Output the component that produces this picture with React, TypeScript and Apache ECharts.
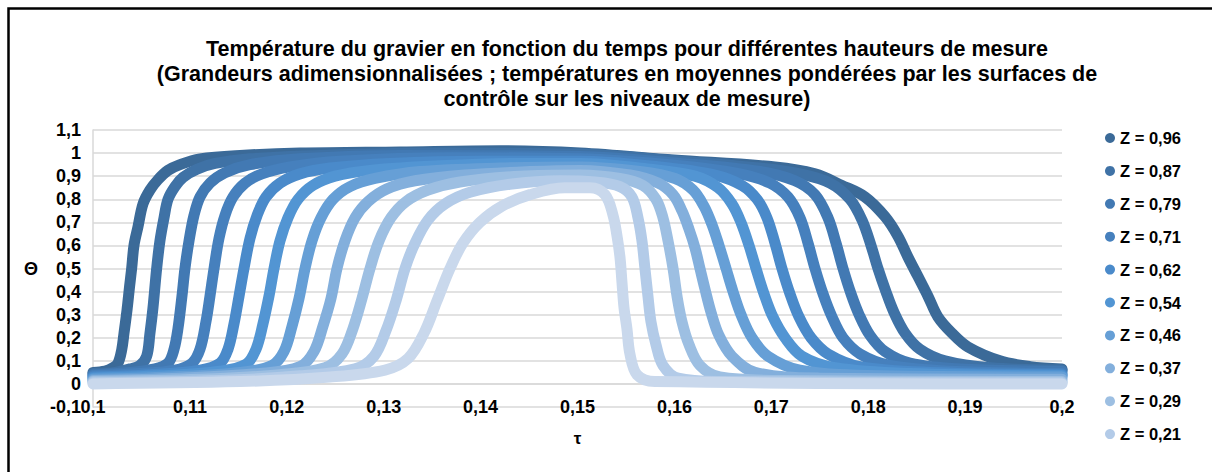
import React, { useEffect, useRef } from "react";
import * as echarts from "echarts";

const titleLines = [
  "Température du gravier en fonction du temps pour différentes hauteurs de mesure",
  "(Grandeurs adimensionnalisées ; températures en moyennes pondérées par les surfaces de",
  "contrôle sur les niveaux de mesure)",
];
const xName = "τ";
const yName = "Θ";
const seriesNames = [
  "Z = 0,96", "Z = 0,87", "Z = 0,79", "Z = 0,71", "Z = 0,62",
  "Z = 0,54", "Z = 0,46", "Z = 0,37", "Z = 0,29", "Z = 0,21", "Z = 0,12",
];
const legendNames = seriesNames.slice(0, 10);
const seriesColors = [
  "#3b6a98", "#3f72a6", "#4279b3", "#4680bd", "#4a8aca",
  "#5295d3", "#669fd6", "#83afdc", "#9dbfe2", "#b3cbe8", "#c9d8ec",
];

const z096 = [
  [0.1, 0.05], [0.10124, 0.055], [0.10206, 0.07], [0.10258, 0.09], [0.10296, 0.147], [0.1032, 0.22],
  [0.10351, 0.32], [0.10377, 0.42], [0.10399, 0.5], [0.10423, 0.6], [0.10464, 0.68], [0.10516, 0.78],
  [0.10588, 0.84], [0.10671, 0.885], [0.10774, 0.925], [0.10898, 0.95], [0.11104, 0.975], [0.11517, 0.99],
  [0.12136, 1.0], [0.13168, 1.005], [0.142, 1.01], [0.15026, 1.0], [0.15996, 0.97], [0.17038, 0.94],
  [0.17451, 0.91], [0.17729, 0.86], [0.17967, 0.81], [0.18173, 0.725], [0.18307, 0.64], [0.1841, 0.55],
  [0.18514, 0.465], [0.18617, 0.38], [0.1872, 0.29], [0.18864, 0.22], [0.1903, 0.16], [0.1936, 0.1],
  [0.1967, 0.075], [0.2, 0.065],
];
const z087 = [
  [0.1, 0.045], [0.10227, 0.05], [0.10382, 0.065], [0.10485, 0.08], [0.10554, 0.12], [0.10588, 0.22],
  [0.10619, 0.33], [0.10657, 0.5], [0.10691, 0.62], [0.10733, 0.72], [0.10774, 0.8], [0.10846, 0.855],
  [0.10929, 0.895], [0.11073, 0.93], [0.11259, 0.955], [0.1162, 0.975], [0.12343, 0.99], [0.13684, 1.0],
  [0.15026, 0.995], [0.16058, 0.965], [0.16883, 0.935], [0.17296, 0.91], [0.17606, 0.87], [0.17812, 0.8],
  [0.17936, 0.71], [0.18029, 0.6], [0.18101, 0.5], [0.18183, 0.4], [0.18266, 0.31], [0.1838, 0.22],
  [0.18534, 0.15], [0.18792, 0.1], [0.19257, 0.07], [0.2, 0.06],
];
const z079 = [
  [0.1, 0.04], [0.10382, 0.05], [0.1064, 0.065], [0.10774, 0.09], [0.10836, 0.15], [0.10877, 0.24],
  [0.10918, 0.38], [0.10949, 0.5], [0.10991, 0.62], [0.11042, 0.73], [0.11104, 0.81], [0.11207, 0.87],
  [0.11362, 0.915], [0.1162, 0.95], [0.12136, 0.975], [0.13168, 0.99], [0.15026, 0.985], [0.16058, 0.955],
  [0.16883, 0.92], [0.17244, 0.88], [0.17451, 0.82], [0.17585, 0.72], [0.17668, 0.61], [0.1774, 0.5],
  [0.17823, 0.39], [0.17906, 0.3], [0.18019, 0.21], [0.18173, 0.14], [0.18431, 0.09], [0.18947, 0.065],
  [0.2, 0.055],
];
const z071 = [
  [0.1, 0.035], [0.10485, 0.045], [0.10846, 0.06], [0.11022, 0.09], [0.11104, 0.15], [0.11166, 0.27],
  [0.11207, 0.38], [0.11249, 0.5], [0.113, 0.63], [0.11362, 0.73], [0.11445, 0.81], [0.11569, 0.87],
  [0.11744, 0.91], [0.12033, 0.94], [0.12549, 0.965], [0.13684, 0.98], [0.15026, 0.975], [0.16058, 0.945],
  [0.16677, 0.91], [0.16986, 0.87], [0.17172, 0.81], [0.17296, 0.72], [0.17379, 0.61], [0.17451, 0.5],
  [0.17534, 0.39], [0.17627, 0.29], [0.1774, 0.2], [0.17916, 0.13], [0.18225, 0.08], [0.18844, 0.055],
  [0.2, 0.045],
];
const z062 = [
  [0.1, 0.03], [0.10588, 0.04], [0.11104, 0.06], [0.11311, 0.09], [0.11393, 0.15], [0.11455, 0.26],
  [0.11507, 0.38], [0.11558, 0.5], [0.1162, 0.63], [0.11693, 0.73], [0.11785, 0.81], [0.1193, 0.87],
  [0.12136, 0.91], [0.12446, 0.935], [0.13065, 0.955], [0.13994, 0.965], [0.15026, 0.965], [0.15851, 0.94],
  [0.16419, 0.905], [0.16698, 0.86], [0.16853, 0.8], [0.16955, 0.72], [0.17038, 0.61], [0.1711, 0.5],
  [0.17193, 0.39], [0.17286, 0.29], [0.1741, 0.2], [0.17585, 0.13], [0.17916, 0.075], [0.18637, 0.05],
  [0.2, 0.04],
];
const z054 = [
  [0.1, 0.025], [0.10691, 0.035], [0.11311, 0.055], [0.11579, 0.085], [0.11682, 0.15], [0.11754, 0.26],
  [0.11816, 0.38], [0.11868, 0.5], [0.1193, 0.62], [0.12012, 0.72], [0.12116, 0.8], [0.1227, 0.86],
  [0.12497, 0.9], [0.12859, 0.925], [0.13581, 0.945], [0.14407, 0.955], [0.15026, 0.955], [0.15748, 0.93],
  [0.16212, 0.9], [0.1645, 0.85], [0.16594, 0.78], [0.16687, 0.7], [0.1677, 0.6], [0.16842, 0.5],
  [0.16925, 0.39], [0.17017, 0.29], [0.17141, 0.2], [0.17317, 0.12], [0.17657, 0.07], [0.18431, 0.045],
  [0.2, 0.035],
];
const z046 = [
  [0.1, 0.02], [0.10795, 0.03], [0.11517, 0.05], [0.11847, 0.08], [0.11971, 0.14], [0.12054, 0.25],
  [0.12126, 0.37], [0.12188, 0.5], [0.1226, 0.62], [0.12353, 0.72], [0.12477, 0.8], [0.12652, 0.855],
  [0.1291, 0.89], [0.13375, 0.92], [0.142, 0.935], [0.15026, 0.94], [0.15645, 0.92], [0.16006, 0.89],
  [0.16192, 0.84], [0.16305, 0.77], [0.16388, 0.69], [0.1646, 0.6], [0.16533, 0.5], [0.16605, 0.4],
  [0.16687, 0.3], [0.16801, 0.2], [0.16966, 0.12], [0.17296, 0.06], [0.18121, 0.035], [0.2, 0.03],
];
const z037 = [
  [0.1, 0.015], [0.10898, 0.025], [0.11723, 0.045], [0.12136, 0.075], [0.1228, 0.14], [0.12373, 0.25],
  [0.12456, 0.37], [0.12518, 0.5], [0.126, 0.62], [0.12704, 0.72], [0.12838, 0.79], [0.13034, 0.845],
  [0.13323, 0.88], [0.13839, 0.905], [0.1451, 0.92], [0.15026, 0.925], [0.15542, 0.905], [0.15831, 0.87],
  [0.15986, 0.82], [0.16078, 0.75], [0.16151, 0.67], [0.16212, 0.59], [0.16264, 0.5], [0.16316, 0.41],
  [0.16378, 0.31], [0.1646, 0.21], [0.16594, 0.12], [0.16832, 0.05], [0.17502, 0.025], [0.2, 0.02],
];
const z029 = [
  [0.1, 0.01], [0.11104, 0.02], [0.1193, 0.04], [0.12394, 0.07], [0.1257, 0.13], [0.12683, 0.24],
  [0.12776, 0.37], [0.12859, 0.5], [0.12952, 0.62], [0.13075, 0.72], [0.1323, 0.79], [0.13457, 0.84],
  [0.13787, 0.875], [0.14406, 0.9], [0.15026, 0.905], [0.15438, 0.89], [0.15676, 0.86], [0.1581, 0.8],
  [0.15882, 0.72], [0.15934, 0.62], [0.15986, 0.5], [0.16027, 0.38], [0.16078, 0.27], [0.16151, 0.17],
  [0.16264, 0.08], [0.1647, 0.03], [0.1709, 0.015], [0.2, 0.01],
];
const z021 = [
  [0.1, 0.005], [0.11311, 0.015], [0.12136, 0.035], [0.12704, 0.065], [0.129, 0.12], [0.13023, 0.23],
  [0.13127, 0.36], [0.1322, 0.5], [0.13323, 0.61], [0.13457, 0.71], [0.13633, 0.78], [0.1389, 0.83],
  [0.14303, 0.865], [0.14819, 0.88], [0.1518, 0.875], [0.15438, 0.855], [0.15562, 0.81], [0.15624, 0.72],
  [0.15665, 0.62], [0.15696, 0.5], [0.15727, 0.38], [0.15758, 0.27], [0.1581, 0.17], [0.15882, 0.08],
  [0.16037, 0.025], [0.1647, 0.01], [0.2, 0.005],
];
const z012 = [
  [0.1, 0.0], [0.11517, 0.01], [0.12446, 0.03], [0.13013, 0.06], [0.13251, 0.11], [0.13416, 0.22],
  [0.1355, 0.36], [0.13684, 0.5], [0.13818, 0.61], [0.13994, 0.7], [0.14221, 0.77], [0.1451, 0.82],
  [0.14871, 0.85], [0.15129, 0.85], [0.15284, 0.82], [0.15367, 0.73], [0.15408, 0.64], [0.15438, 0.55],
  [0.15459, 0.44], [0.1548, 0.33], [0.1551, 0.24], [0.15541, 0.13], [0.15614, 0.04], [0.158, 0.01],
  [0.2, 0.0],
];
const seriesData = [z096, z087, z079, z071, z062, z054, z046, z037, z029, z021, z012];

const fmt = (v: number, d: number) => {
  const r = Math.round(v * Math.pow(10, d)) / Math.pow(10, d);
  return String(r).replace(".", ",");
};

export default function App() {
  const ref = useRef<HTMLDivElement>(null);
  useEffect(() => {
    if (!ref.current) return;
    const chart = echarts.init(ref.current, null, { renderer: "svg" });
    const font = "'Liberation Sans', Arial, sans-serif";
    chart.setOption({
      animation: false,
      backgroundColor: "#ffffff",
      textStyle: { fontFamily: font },
      title: {
        text: titleLines.join("\n"),
        left: 622,
        top: 31,
        textAlign: "center",
        textStyle: { fontSize: 21.5, fontWeight: "bold", color: "#000", lineHeight: 25, fontFamily: font },
      },
      legend: {
        data: legendNames,
        orient: "vertical",
        left: 1100,
        top: 123,
        icon: "circle",
        itemWidth: 10,
        itemHeight: 10,
        itemGap: 12.9,
        textStyle: { fontSize: 16.5, fontWeight: "bold", color: "#000", lineHeight: 20, fontFamily: font },
      },
      grid: { left: 93, right: 150, top: 130, bottom: 65, containLabel: false },
      xAxis: {
        type: "value",
        min: 0.1,
        max: 0.2,
        interval: 0.01,
        name: xName,
        nameLocation: "middle",
        nameGap: 23,
        nameTextStyle: { fontSize: 17, fontWeight: "bold", color: "#000", fontFamily: font },
        axisLine: { show: true, lineStyle: { color: "#d9d9d9", width: 1.5 } },
        axisTick: { show: false },
        splitLine: { show: false },
        axisLabel: {
          formatter: (v: number) => fmt(v, 2),
          fontSize: 18,
          fontWeight: "bold",
          color: "#000",
          margin: 0,
          verticalAlign: "middle",
          fontFamily: font,
        },
      },
      yAxis: {
        type: "value",
        min: -0.1,
        max: 1.1,
        interval: 0.1,
        name: yName,
        nameLocation: "middle",
        nameRotate: 0,
        nameGap: 55,
        nameTextStyle: { fontSize: 18, fontWeight: "bold", color: "#000", fontFamily: font },
        axisLine: { show: true, lineStyle: { color: "#d9d9d9", width: 1.5 } },
        axisTick: { show: false },
        splitLine: { show: true, lineStyle: { color: "#d9d9d9", width: 1.5 } },
        axisLabel: {
          formatter: (v: number) => fmt(v, 1),
          fontSize: 18,
          fontWeight: "bold",
          color: "#000",
          margin: 12,
          fontFamily: font,
        },
      },
      graphic: [
        {
          type: "rect",
          left: 6,
          top: 6,
          shape: { width: 1400, height: 700 },
          style: { fill: "none", stroke: "#000", lineWidth: 2.5 },
          silent: true,
        },
      ],
      series: seriesData.map((d, i) => ({
        name: seriesNames[i],
        type: "line",
        data: d,
        smooth: 0.35,
        showSymbol: false,
        symbol: "circle",
        color: seriesColors[i],
        lineStyle: { width: 11, color: seriesColors[i], cap: "round", join: "round" },
        z: 2 + i,
      })),
    });
    return () => chart.dispose();
  }, []);
  return (
    <div
      ref={ref}
      style={{ position: "absolute", left: 0, top: 0, width: 1212, height: 472 }}
    />
  );
}
